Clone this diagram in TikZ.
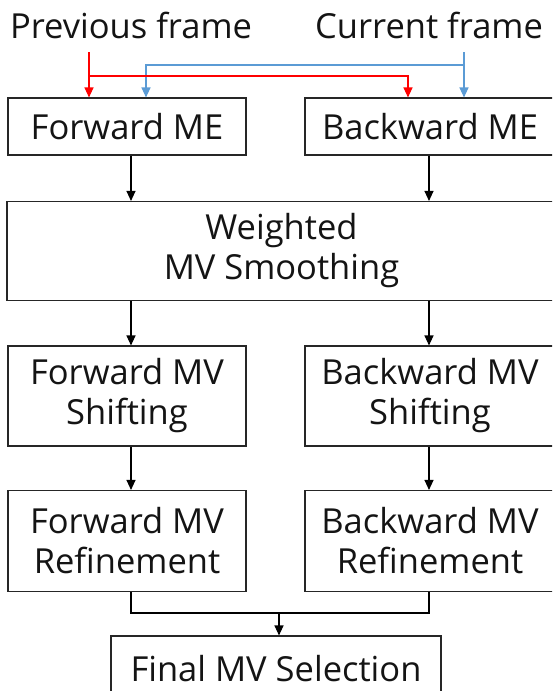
\documentclass[tikz,border=0pt]{standalone}
\usepackage{fontspec}
\setmainfont{Open Sans}
\usetikzlibrary{arrows.meta}
\definecolor{myred}{RGB}{255,0,0}
\definecolor{myblue}{RGB}{91,155,213}
\definecolor{txt}{RGB}{20,20,20}
\begin{document}
\begin{tikzpicture}[x=1pt,y=-1pt,
  box/.style={draw=black!85, line width=1.1pt, align=center, inner sep=0pt,
    font=\fontsize{34.5}{40}\selectfont, text=txt},
  lbl/.style={inner sep=0pt, font=\fontsize{34.5}{40}\selectfont, text=txt},
  arr/.style={line width=1.1pt, -{Triangle[width=9pt,length=10pt]}},
  plain/.style={line width=1.1pt},
  redl/.style={myred},
  bluel/.style={myblue}]
\useasboundingbox (0,0) rectangle (552,691);
\clip (0,0) rectangle (552,691);
\node[lbl] (prev) at (131,25) {Previous frame};
\node[lbl] (curr) at (429,25) {Current frame};
\node[box, minimum width=238pt, minimum height=57pt] (fme) at (127,126.5) {Forward ME};
\node[box, minimum width=250pt, minimum height=57pt] (bme) at (430,126.5) {Backward ME};
\node[box, minimum width=549pt, minimum height=99pt] (wms) at (281.5,251) {Weighted\\MV Smoothing};
\node[box, minimum width=238pt, minimum height=100pt] (fsh) at (127,396) {Forward MV\\Shifting};
\node[box, minimum width=250pt, minimum height=100pt] (bsh) at (430,396) {Backward MV\\Shifting};
\node[box, minimum width=238pt, minimum height=101pt] (fref) at (127,541) {Forward MV\\Refinement};
\node[box, minimum width=250pt, minimum height=101pt] (bref) at (430,541) {Backward MV\\Refinement};
\node[box, minimum width=330pt, minimum height=66pt] (fin) at (276,669) {Final MV Selection};
\coordinate (xl) at (131,0);
\coordinate (xr) at (429,0);
\coordinate (mid) at (279,613);
% inputs
\coordinate (rs) at (89,52);
\coordinate (rh) at (89,76);
\coordinate (rr) at (408,0);
\coordinate (bs) at (464,52);
\coordinate (bh) at (464,65);
\coordinate (bl) at (146,0);
\draw[arr,bluel] (bh) -| (bl |- fme.north);
\draw[arr,bluel] (bs) -- (bs |- bme.north);
\draw[arr,redl] (rs) -- (rs |- fme.north);
\draw[arr,redl] (rh) -| (rr |- bme.north);
% flow
\draw[arr] (fme.south -| xl) -- (wms.north -| xl);
\draw[arr] (bme.south -| xr) -- (wms.north -| xr);
\draw[arr] (wms.south -| xl) -- (fsh.north -| xl);
\draw[arr] (wms.south -| xr) -- (bsh.north -| xr);
\draw[arr] (fsh.south -| xl) -- (fref.north -| xl);
\draw[arr] (bsh.south -| xr) -- (bref.north -| xr);
\draw[plain] (fref.south -| xl) |- (mid);
\draw[plain] (bref.south -| xr) |- (mid);
\draw[arr] (mid) -- (fin.north -| mid);
\end{tikzpicture}
\end{document}
